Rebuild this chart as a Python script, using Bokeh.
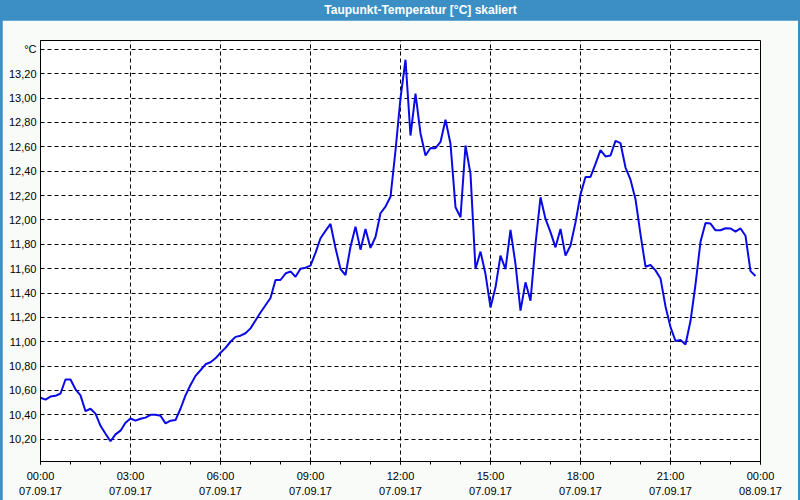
from bokeh.plotting import figure
from bokeh.layouts import column
from bokeh.models import FixedTicker
from bokeh.core.properties import value
from bokeh.embed import file_html
from bokeh.resources import INLINE

title_text = "Taupunkt-Temperatur [°C] skaliert"

# dew point readings every 10 minutes on 07.09.17, starting at 00:00
step_minutes = 10
dewpoint = [
    10.54, 10.525, 10.55, 10.556, 10.575, 10.69, 10.69, 10.61, 10.56, 10.43,
    10.45, 10.41, 10.31, 10.245, 10.183, 10.24, 10.27, 10.335, 10.37, 10.352,
    10.368, 10.377, 10.40, 10.40, 10.393, 10.33, 10.352, 10.357, 10.45, 10.56,
    10.645, 10.72, 10.766, 10.815, 10.832, 10.864, 10.91, 10.95, 11.0, 11.04,
    11.05, 11.07, 11.11, 11.175, 11.24, 11.30, 11.359, 11.507, 11.507, 11.56,
    11.578, 11.534, 11.60, 11.608, 11.625, 11.73, 11.85, 11.91, 11.967, 11.77,
    11.597, 11.548, 11.78, 11.945, 11.756, 11.926, 11.77, 11.86, 12.055, 12.11,
    12.19, 12.57, 13.0, 13.315, 12.693, 13.036, 12.71, 12.529, 12.59, 12.589,
    12.64, 12.822, 12.625, 12.104, 12.022, 12.611, 12.378, 11.597, 11.74, 11.556,
    11.282, 11.447, 11.707, 11.597, 11.918, 11.638, 11.255, 11.488, 11.337, 11.803,
    12.186, 12.008, 11.90, 11.775, 11.926, 11.707, 11.79, 11.98, 12.21, 12.353,
    12.353, 12.46, 12.573, 12.521, 12.529, 12.649, 12.63, 12.43, 12.33, 12.17,
    11.882, 11.616, 11.63, 11.586, 11.52, 11.29, 11.12, 11.006, 11.014, 10.978,
    11.17, 11.47, 11.82, 11.975, 11.97, 11.915, 11.915, 11.932, 11.93, 11.904,
    11.93, 11.87, 11.58, 11.54,
]
hours = [i * step_minutes / 60 for i in range(len(dewpoint))]

x_tick_hours = [0, 3, 6, 9, 12, 15, 18, 21, 24]
x_tick_labels = [
    "00:00\n07.09.17", "03:00\n07.09.17", "06:00\n07.09.17", "09:00\n07.09.17",
    "12:00\n07.09.17", "15:00\n07.09.17", "18:00\n07.09.17", "21:00\n07.09.17",
    "00:00\n08.09.17",
]
x_minor_hours = list(range(0, 25))

y_tick_values = [10.2, 10.4, 10.6, 10.8, 11.0, 11.2, 11.4, 11.6, 11.8,
                 12.0, 12.2, 12.4, 12.6, 12.8, 13.0, 13.2, 13.4]
y_tick_labels = ["10,20", "10,40", "10,60", "10,80", "11,00", "11,20", "11,40",
                 "11,60", "11,80", "12,00", "12,20", "12,40", "12,60", "12,80",
                 "13,00", "13,20", "°C"]

BLUE = "#3b8fc5"
FONT = "Liberation Sans"

# ---- title bar ----
tb = figure(width=800, height=20, frame_width=800, frame_height=20,
            x_range=(0, 800), y_range=(0, 20), min_border=0,
            x_axis_location=None, y_axis_location=None,
            output_backend="svg", toolbar_location=None)
tb.background_fill_color = BLUE
tb.border_fill_color = BLUE
tb.outline_line_color = None
tb.grid.visible = False
tb.text(x=[382], y=[10.5], text=[title_text], text_align="center",
        text_baseline="middle", text_color="white", text_font=value(FONT),
        text_font_style="bold", text_font_size="12px")

# ---- main chart ----
p = figure(frame_width=720, frame_height=421,
           x_range=(0, 24), y_range=(10.017, 13.473),
           min_border_left=38, min_border_right=38,
           min_border_top=20, min_border_bottom=37,
           output_backend="svg", toolbar_location=None,
           margin=(0, 2, 2, 2))
p.background_fill_color = "white"
p.border_fill_color = "#f9fbf9"
p.outline_line_color = "black"
p.outline_line_width = 1

p.line(hours, dewpoint, line_color="#0a0ae6", line_width=2)

xt = FixedTicker(ticks=x_tick_hours, minor_ticks=x_minor_hours)
p.xaxis.ticker = xt
p.xaxis.major_label_overrides = dict(zip(x_tick_hours, x_tick_labels))
p.xaxis.major_tick_out = 3
p.xaxis.major_tick_in = 0
p.xaxis.minor_tick_out = 3
p.xaxis.minor_tick_in = 0
p.xaxis.major_label_standoff = 5
p.xaxis.major_label_text_font = FONT
p.xaxis.major_label_text_font_size = "11px"
p.xaxis.major_label_text_color = "black"
p.xaxis.major_label_text_line_height = 1.3
p.xaxis.axis_line_color = "black"
p.xaxis.major_tick_line_color = "black"
p.xaxis.minor_tick_line_color = "black"

yt = FixedTicker(ticks=y_tick_values, minor_ticks=[])
p.yaxis.ticker = yt
p.yaxis.major_label_overrides = dict(zip(y_tick_values, y_tick_labels))
p.yaxis.major_tick_out = 0
p.yaxis.major_tick_in = 0
p.yaxis.minor_tick_out = 0
p.yaxis.minor_tick_in = 0
p.yaxis.major_label_standoff = 4
p.yaxis.major_label_text_font = FONT
p.yaxis.major_label_text_font_size = "11px"
p.yaxis.major_label_text_color = "black"
p.yaxis.axis_line_color = "black"

p.xgrid.ticker = xt
p.ygrid.ticker = yt
for g in (p.xgrid, p.ygrid):
    g.grid_line_color = "black"
    g.grid_line_dash = "4 3"
    g.grid_line_width = 1

layout = column(tb, p, spacing=0, styles={"background-color": BLUE})

open("out.html", "w").write(file_html(layout, INLINE))
